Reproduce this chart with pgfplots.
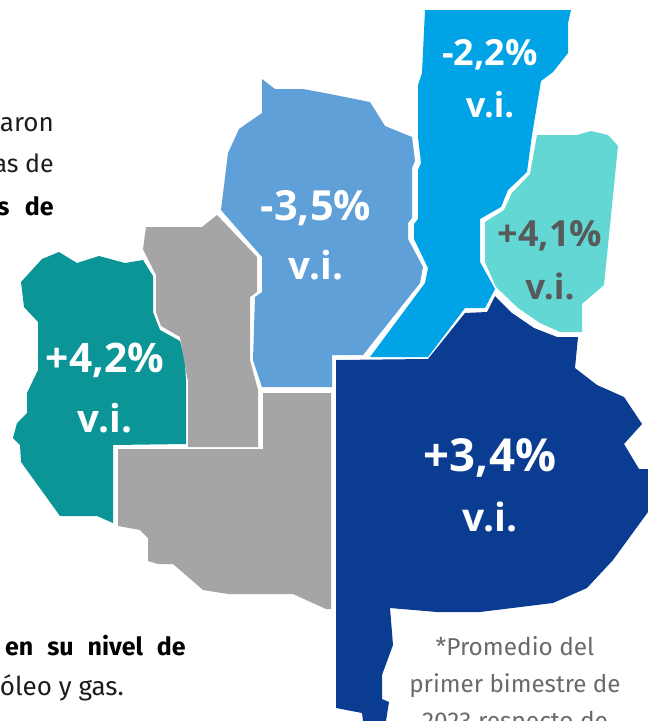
\documentclass[border=0pt]{standalone}
\usepackage{pgfplots}
\pgfplotsset{compat=1.18}
\usepackage{fontspec}
\setmainfont{Fira Sans}
\newfontfamily\labfont{Open Sans}

\definecolor{tealreg}{HTML}{0C9596}
\definecolor{grayreg}{HTML}{A5A5A5}
\definecolor{bluereg}{HTML}{5FA0D9}
\definecolor{cyanreg}{HTML}{00A3E5}
\definecolor{turqreg}{HTML}{63D7D3}
\definecolor{navyreg}{HTML}{0A3C91}
\definecolor{darktxt}{HTML}{58595B}
\definecolor{notetxt}{HTML}{6A6A6A}
\definecolor{bodytxt}{HTML}{1C1C1C}

\newcommand{\fs}[1]{\fontsize{#1}{#1}\selectfont}
\tikzset{lab/.style={font=\labfont\bfseries\fs{#1}, text=white, anchor=center, inner sep=0pt}}

\begin{document}
\begin{tikzpicture}
\path[clip,use as bounding box] (0,0) rectangle (648pt,721pt);
\begin{axis}[
  at={(0,0)}, anchor=south west,
  scale only axis, width=648pt, height=721pt,
  xmin=0, xmax=648, ymin=0, ymax=721,
  y dir=reverse, hide axis, clip=false,
  every axis plot/.append style={draw=none},
]
% teal
\addplot[fill=tealreg] coordinates {(21,282) (42,259) (59,252) (77,263) (99,256) (125,263) (143,260) (153,276) (153,312) (160,330) (180,341) (185,360) (186,382) (186,444) (113,445) (113,523) (97,516) (60,516) (21,462) (20,445) (13,438) (17,423) (27,413) (27,393) (38,370) (38,322) (24,307)} -- cycle;
% gray, upper
\addplot[fill=grayreg] coordinates {(146,227) (202,227) (217,215) (257,257) (257,292) (250,297) (250,360) (258,390) (258,447) (188,447) (188,382) (184,360) (180,337) (161,326) (156,312) (156,275) (143,249)} -- cycle;
% gray, lower
\addplot[fill=grayreg] coordinates {(118,449) (263,449) (263,393) (331,393) (331,609) (326,609) (293,594) (228,594) (203,590) (173,564) (158,564) (148,561) (148,538) (140,530) (118,526)} -- cycle;
% light blue
\addplot[fill=bluereg] coordinates {(262,79) (275,89) (303,89) (330,94) (370,102) (385,126) (412,137) (415,161) (412,168) (412,218) (408,223) (408,239) (423,267) (420,283) (363,355) (332,355) (332,387) (262,387) (253,360) (255,297) (262,292) (262,257) (221,210) (228,153) (239,129) (262,113)} -- cycle;
% cyan
\addplot[fill=cyanreg] coordinates {(425,10) (571,10) (568,23) (568,53) (553,72) (541,81) (532,135) (527,172) (508,190) (501,207) (480,219) (480,262) (495,289) (485,308) (465,308) (428,357) (370,357) (425,283) (428,268) (414,239) (414,224) (418,219) (418,170) (421,163) (418,137) (418,85) (422,73)} -- cycle;
% turquoise
\addplot[fill=turqreg] coordinates {(537,135) (577,135) (591,131) (608,135) (618,146) (604,285) (582,304) (582,332) (560,332) (540,323) (518,308) (496,287) (485,262) (485,222) (504,210) (512,193) (530,174)} -- cycle;
% navy
\addplot[fill=navyreg] coordinates {(495,296) (512,313) (534,328) (557,337) (578,337) (575,368) (597,385) (624,397) (642,424) (624,444) (639,469) (648,469) (648,512) (613,560) (587,588) (553,603) (480,612) (437,612) (390,608) (393,645) (382,675) (382,699) (389,702) (386,721) (363,721) (362,713) (336,708) (336,360) (428,359) (465,313) (487,312)} -- cycle;

\node[lab=36] at (axis cs:490,55) {-2,2\%};
\node[lab=34.5] at (axis cs:490,105) {v.i.};
\node[lab=41.5] at (axis cs:316,208) {-3,5\%};
\node[lab=38.5] at (axis cs:316,265) {v.i.};
\node[lab=40.7] at (axis cs:105,360) {+4,2\%};
\node[lab=38.5] at (axis cs:105,418) {v.i.};
\node[lab=45.5] at (axis cs:490,458) {+3,4\%};
\node[lab=39] at (axis cs:490,517) {v.i.};
\node[lab=36,text=darktxt] at (axis cs:550,236) {+4,1\%};
\node[lab=35,text=darktxt] at (axis cs:550,286) {v.i.};

\node[anchor=base east,inner sep=0pt,text=bodytxt,font=\fs{26}] at (axis cs:54,131) {aron};
\node[anchor=base east,inner sep=0pt,text=bodytxt,font=\fs{25}] at (axis cs:54,172) {as de};
\node[anchor=base east,inner sep=0pt,text=black,font=\bfseries\fs{25}] at (axis cs:54,215) {s\hspace{0.62em}de};
\node[anchor=base east,inner sep=0pt,text=black,font=\bfseries\fs{25}] at (axis cs:186,655) {en\hspace{0.56em}su\hspace{0.56em}nivel\hspace{0.56em}de};
\node[anchor=base east,inner sep=0pt,text=bodytxt,font=\fs{26}] at (axis cs:124,695) {óleo y gas.};
\node[anchor=base,inner sep=0pt,text=notetxt,font=\fs{24.4}] at (axis cs:515,655) {*Promedio del};
\node[anchor=base,inner sep=0pt,text=notetxt,font=\fs{24.2}] at (axis cs:515,692) {primer bimestre de};
\node[anchor=base,inner sep=0pt,text=notetxt,font=\fs{24.4}] at (axis cs:515,729) {2023 respecto de};
\end{axis}
\end{tikzpicture}
\end{document}
